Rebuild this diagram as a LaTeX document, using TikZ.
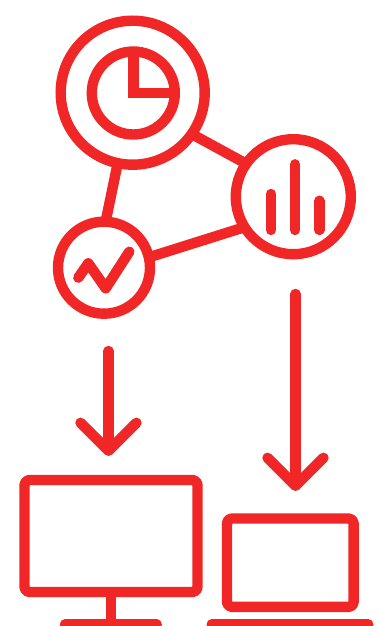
\documentclass[tikz,border=0pt]{standalone}
\usepackage{xcolor}
\usetikzlibrary{arrows.meta}
\definecolor{iconred}{RGB}{240,38,39}
\tikzset{
  iconline/.style={draw=iconred,line width=2.6mm},
  ring/.style={iconline,circle,inner sep=0pt,outer sep=0pt},
  screen/.style={iconline,line join=round,rectangle,rounded corners=1.2mm,inner sep=0pt,outer sep=0pt},
  bar/.style={iconline,line cap=round},
  downflow/.style={iconline,line cap=round,-{Straight Barb[round,length=7mm,width=14mm]}}
}

\begin{document}
\begin{tikzpicture}[x=0.25mm,y=-0.25mm]
  \clip (0,0) rectangle (381,626);
  \fill[white] (0,0) rectangle (381,626);

  % network of dials
  \node[ring,minimum size=36mm] (clock) at (132.7,92.7) {};
  \node[ring,minimum size=20.75mm] (pie) at (133.3,93) {};
  \node[ring,minimum size=28.75mm] (bars) at (293.3,196.7) {};
  \node[ring,minimum size=23mm] (trend) at (104,267.7) {};

  \draw[iconline] (clock.-35) -- (bars.145);
  \draw[iconline] (clock.258) -- (trend.88);
  \draw[iconline] (trend.13) -- (bars.212);

  % pie slice
  \draw[iconline,line join=miter] (pie.north) -- (pie.center) -- (pie.east);

  % bars
  \coordinate (bar1a) at (271,194);
  \coordinate (bar1b) at (271,230);
  \coordinate (bar2a) at (295,164.3);
  \coordinate (bar2b) at (295,230);
  \coordinate (bar3a) at (319.3,200.7);
  \coordinate (bar3b) at (319.3,230);
  \draw[bar] (bar1a) -- (bar1b);
  \draw[bar] (bar2a) -- (bar2b);
  \draw[bar] (bar3a) -- (bar3b);

  % trend line
  \coordinate (tick1) at (78.3,277.7);
  \coordinate (tick2) at (88.3,263.3);
  \coordinate (tick3) at (105.7,288.3);
  \coordinate (tick4) at (129.3,251.7);
  \draw[bar,line join=round] (tick1) -- (tick2) -- (tick3) -- (tick4);

  % arrows
  \coordinate (leftfrom) at (108.5,351);
  \coordinate (leftto) at (108.5,456);
  \coordinate (rightfrom) at (295.5,294);
  \coordinate (rightto) at (295.5,491);
  \draw[downflow] (leftfrom) -- (leftto);
  \draw[downflow] (rightfrom) -- (rightto);

  % desktop
  \node[screen,minimum width=43.25mm,minimum height=28mm] (monitor) at (111,536) {};
  \coordinate (standfoot) at (111,624.5);
  \coordinate (footl) at (65,624.5);
  \coordinate (footr) at (156.7,624.5);
  \draw[iconline] (monitor.south) -- (standfoot);
  \draw[bar] (footl) -- (footr);

  % laptop
  \node[screen,minimum width=31.67mm,minimum height=22.1mm] (laptop) at (290.3,562.7) {};
  \coordinate (basel) at (211.7,624.5);
  \coordinate (baser) at (368.3,624.5);
  \draw[bar] (basel) -- (baser);
\end{tikzpicture}
\end{document}
